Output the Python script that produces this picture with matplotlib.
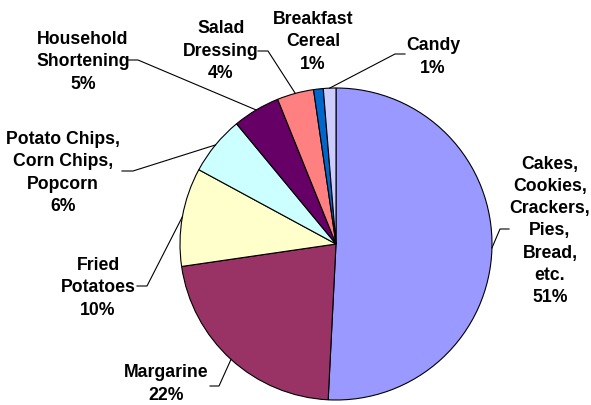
import numpy as np
import matplotlib.pyplot as plt

plt.rcParams['font.family'] = ['Liberation Sans', 'DejaVu Sans']

categories = ['Cakes,\nCookies,\nCrackers,\nPies,\nBread,\netc.', 'Margarine', 'Fried\nPotatoes',
              'Potato Chips,\nCorn Chips,\nPopcorn', 'Household\nShortening', 'Salad\nDressing',
              'Breakfast\nCereal', 'Candy']
values = [50.8, 21.9, 10.2, 6.1, 4.9, 3.8, 1.0, 1.3]
colors = ['#9999FF', '#993366', '#FFFFCC', '#CCFFFF', '#660066', '#FF8080', '#0066CC', '#CCCCFF']

# layout in pixel coords (y from top)
W, H = 591, 405
cx, cy, r = 336, 244, 156
text_pos = [(550, 231), (166, 384), (98, 288), (63, 173), (83, 62), (221, 51), (313, 42), (433, 57)]
# leader: (start x, y, elbow x) ; None = no leader
leaders = [(509, 229, 500), (210, 386, 219), (137, 286, 147), (122, 171, 133),
           (128, 60, 138), (258, 51, 268), None, (405, 54, 395)]

fig = plt.figure(figsize=(W / 100, H / 100), dpi=100)
ax = fig.add_axes([0, 0, 1, 1])

wedges, _ = ax.pie(values, colors=colors, startangle=90, counterclock=False,
                   center=(cx, H - cy), radius=r,
                   wedgeprops=dict(edgecolor='black', linewidth=0.8))
ax.set_xlim(0, W)
ax.set_ylim(0, H)
ax.set_aspect('equal')
ax.axis('off')

total = sum(values)
for w, lab, v, tp, ld in zip(wedges, categories, values, text_pos, leaders):
    pct = int(round(v / total * 100))
    ax.text(tp[0], H - tp[1], f'{lab}\n{pct}%', ha='center', va='center',
            fontsize=12.7, fontweight='bold', linespacing=1.4)
    if ld is None:
        continue
    mid = np.deg2rad((w.theta1 + w.theta2) / 2)
    px = cx + r * np.cos(mid)
    py = H - cy + r * np.sin(mid)
    ax.plot([ld[0], ld[2], px], [H - ld[1], H - ld[1], py], color='black', linewidth=0.8)

fig.savefig('out.png', dpi=100)
